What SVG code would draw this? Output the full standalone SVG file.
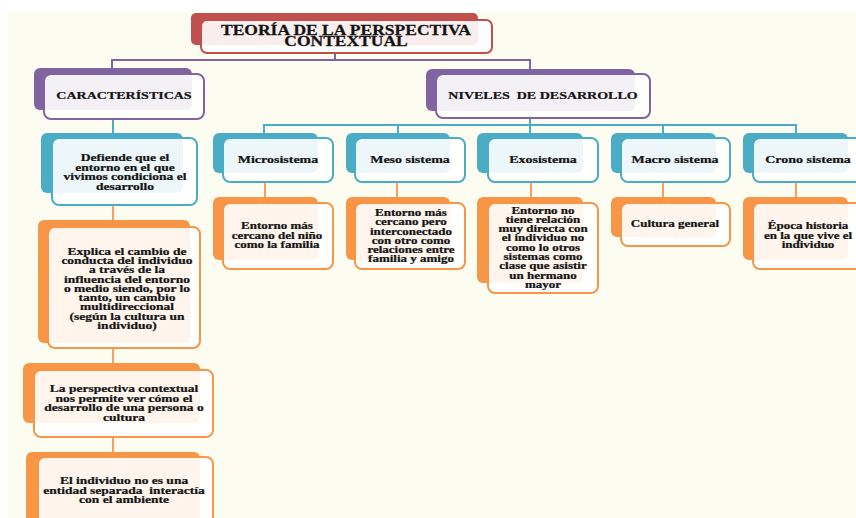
<svg xmlns="http://www.w3.org/2000/svg" width="856" height="518" viewBox="0 0 856 518">
  <style>
    .paper{fill:#FCFCF0}
    .sheet{fill:#FFFFFF}
    .bk{stroke:none}
    .fr{fill:#FFFFFF;fill-opacity:.9;stroke-width:2}
    .red .bk{fill:#C0504D} .red .fr{stroke:#C0504D}
    .pur .bk{fill:#8064A2} .pur .fr{stroke:#8064A2}
    .tea .bk{fill:#4BACC6} .tea .fr{stroke:#4BACC6}
    .ora .bk{fill:#F79646} .ora .fr{stroke:#F79646}
    text{font-family:"Liberation Serif","Times New Roman",serif;font-weight:bold;fill:#141414;stroke:#141414;stroke-width:.3;text-anchor:middle}
    .t{font-size:17.5px}
    .h{font-size:14px}
    .b{font-size:13.5px}
    .s{font-size:13px}
    .c-pur{fill:none;stroke:#8064A2;stroke-width:2}
    .c-tea{fill:none;stroke:#4BACC6;stroke-width:2}
    .c-ora{fill:none;stroke:#F8A060;stroke-width:2}
  </style>

  <!-- page -->
  <rect class="sheet" x="0" y="0" width="856" height="518"/>
  <rect class="paper" x="8" y="12" width="848" height="506"/>

  <!-- connectors -->
  <g id="connectors">
    <path class="c-pur" d="M335 53V60M112 70V60H530V70"/>
    <path class="c-tea" d="M113 119V133"/>
    <path class="c-tea" d="M530 118V133M264 133V125H796V133M398 125V133M663 125V133"/>
    <path class="c-ora" d="M113 205V220M113 348V363M113 437V452"/>
    <path class="c-ora" d="M265 182V197M397 182V197M531 182V197M663 182V197M796 182V197"/>
  </g>

  <!-- root -->
  <g id="teoria" class="red">
    <rect class="bk" x="191" y="13" width="287" height="32" rx="5"/>
    <rect class="fr" x="201" y="20" width="291" height="33" rx="6"/>
    <text class="t" transform="translate(346 35.3) scale(1 .85)"><tspan x="0" y="0">TEORÍA DE LA PERSPECTIVA</tspan><tspan x="0" y="12.6">CONTEXTUAL</tspan></text>
  </g>

  <!-- branch headers -->
  <g id="caracteristicas" class="pur">
    <rect class="bk" x="34" y="68" width="158" height="42" rx="6"/>
    <rect class="fr" x="44" y="74" width="160" height="45" rx="7"/>
    <text class="h" transform="translate(124 99.3) scale(1 .78)">CARACTERÍSTICAS</text>
  </g>
  <g id="niveles" class="pur">
    <rect class="bk" x="426" y="69" width="209" height="42" rx="6"/>
    <rect class="fr" x="436" y="74" width="214" height="44" rx="7"/>
    <text class="h" transform="translate(543 99.3) scale(1 .78)" xml:space="preserve">NIVELES  DE DESARROLLO</text>
  </g>

  <!-- characteristics column -->
  <g id="defiende" class="tea">
    <rect class="bk" x="41" y="133" width="142" height="60" rx="6"/>
    <rect class="fr" x="52" y="138" width="145" height="67" rx="7"/>
    <text class="b" transform="translate(125 161) scale(1 .8)"><tspan x="0" y="0">Defiende que el</tspan><tspan x="0" dy="11.9">entorno en el que</tspan><tspan x="0" dy="11.9">vivimos condiciona el</tspan><tspan x="0" dy="11.9">desarrollo</tspan></text>
  </g>
  <g id="explica" class="ora">
    <rect class="bk" x="38" y="220" width="152" height="123" rx="6"/>
    <rect class="fr" x="48" y="227" width="152" height="121" rx="7"/>
    <text class="b" transform="translate(127 255) scale(1 .8)"><tspan x="0" y="0">Explica el cambio de</tspan><tspan x="0" dy="11.56">conducta del individuo</tspan><tspan x="0" dy="11.56">a través de la</tspan><tspan x="0" dy="11.56">influencia del entorno</tspan><tspan x="0" dy="11.56">o medio siendo, por lo</tspan><tspan x="0" dy="11.56">tanto, un cambio</tspan><tspan x="0" dy="11.56">multidireccional</tspan><tspan x="0" dy="11.56">(según la cultura un</tspan><tspan x="0" dy="11.56">individuo)</tspan></text>
  </g>
  <g id="perspectiva" class="ora">
    <rect class="bk" x="23" y="363" width="177" height="60" rx="6"/>
    <rect class="fr" x="34" y="370" width="179" height="67" rx="7"/>
    <text class="b" transform="translate(124 392) scale(1 .8)"><tspan x="0" y="0">La perspectiva contextual</tspan><tspan x="0" dy="11.9">nos permite ver cómo el</tspan><tspan x="0" dy="11.9">desarrollo de una persona o</tspan><tspan x="0" dy="11.9">cultura</tspan></text>
  </g>
  <g id="individuo" class="ora">
    <rect class="bk" x="26" y="452" width="174" height="80" rx="6"/>
    <rect class="fr" x="38" y="457" width="175" height="75" rx="7"/>
    <text class="b" transform="translate(124 484) scale(1 .8)" xml:space="preserve"><tspan x="0" y="0">El individuo no es una</tspan><tspan x="0" dy="12">entidad separada  interactía</tspan><tspan x="0" dy="12">con el ambiente</tspan></text>
  </g>

  <!-- development levels -->
  <g id="microsistema" class="tea">
    <rect class="bk" x="213" y="133" width="105" height="40" rx="6"/>
    <rect class="fr" x="223" y="138" width="110" height="44" rx="7"/>
    <text class="h" transform="translate(278 163.3) scale(1 .78)">Microsistema</text>
  </g>
  <g id="mesosistema" class="tea">
    <rect class="bk" x="346" y="133" width="104" height="40" rx="6"/>
    <rect class="fr" x="355" y="138" width="110" height="44" rx="7"/>
    <text class="h" transform="translate(410 163.3) scale(1 .78)">Meso sistema</text>
  </g>
  <g id="exosistema" class="tea">
    <rect class="bk" x="477" y="133" width="106" height="40" rx="6"/>
    <rect class="fr" x="488" y="138" width="110" height="44" rx="7"/>
    <text class="h" transform="translate(543 163.3) scale(1 .78)">Exosistema</text>
  </g>
  <g id="macrosistema" class="tea">
    <rect class="bk" x="611" y="133" width="105" height="40" rx="6"/>
    <rect class="fr" x="621" y="138" width="109" height="44" rx="7"/>
    <text class="h" transform="translate(675 163.3) scale(1 .78)">Macro sistema</text>
  </g>
  <g id="cronosistema" class="tea">
    <rect class="bk" x="743" y="133" width="105" height="40" rx="6"/>
    <rect class="fr" x="753" y="138" width="110" height="44" rx="7"/>
    <text class="h" transform="translate(808 163.3) scale(1 .78)">Crono sistema</text>
  </g>

  <!-- level descriptions -->
  <g id="micro-desc" class="ora">
    <rect class="bk" x="213" y="197" width="105" height="63" rx="6"/>
    <rect class="fr" x="223" y="203" width="110" height="66" rx="7"/>
    <text class="s" transform="translate(277 229) scale(1 .8)"><tspan x="0" y="0">Entorno más</tspan><tspan x="0" dy="11.9">cercano del niño</tspan><tspan x="0" dy="11.9">como la familia</tspan></text>
  </g>
  <g id="meso-desc" class="ora">
    <rect class="bk" x="346" y="197" width="104" height="63" rx="6"/>
    <rect class="fr" x="355" y="203" width="110" height="66" rx="7"/>
    <text class="s" transform="translate(411 216) scale(1 .8)"><tspan x="0" y="0">Entorno más</tspan><tspan x="0" dy="11.6">cercano pero</tspan><tspan x="0" dy="11.6">interconectado</tspan><tspan x="0" dy="11.6">con otro como</tspan><tspan x="0" dy="11.6">relaciones entre</tspan><tspan x="0" dy="11.6">familia y amigo</tspan></text>
  </g>
  <g id="exo-desc" class="ora">
    <rect class="bk" x="477" y="197" width="106" height="86" rx="6"/>
    <rect class="fr" x="488" y="203" width="110" height="90" rx="7"/>
    <text class="s" transform="translate(543 213.5) scale(1 .8)"><tspan x="0" y="0">Entorno no</tspan><tspan x="0" dy="11.64">tiene relación</tspan><tspan x="0" dy="11.64">muy directa con</tspan><tspan x="0" dy="11.64">el individuo no</tspan><tspan x="0" dy="11.64">como lo otros</tspan><tspan x="0" dy="11.64">sistemas como</tspan><tspan x="0" dy="11.64">clase que asistir</tspan><tspan x="0" dy="11.64">un hermano</tspan><tspan x="0" dy="11.64">mayor</tspan></text>
  </g>
  <g id="macro-desc" class="ora">
    <rect class="bk" x="611" y="197" width="105" height="40" rx="6"/>
    <rect class="fr" x="621" y="203" width="109" height="43" rx="7"/>
    <text class="s" transform="translate(675 227) scale(1 .8)">Cultura general</text>
  </g>
  <g id="crono-desc" class="ora">
    <rect class="bk" x="743" y="197" width="105" height="63" rx="6"/>
    <rect class="fr" x="753" y="203" width="110" height="66" rx="7"/>
    <text class="s" transform="translate(808 229) scale(1 .8)"><tspan x="0" y="0">Época historia</tspan><tspan x="0" dy="11.9">en la que vive el</tspan><tspan x="0" dy="11.9">individuo</tspan></text>
  </g>
</svg>
